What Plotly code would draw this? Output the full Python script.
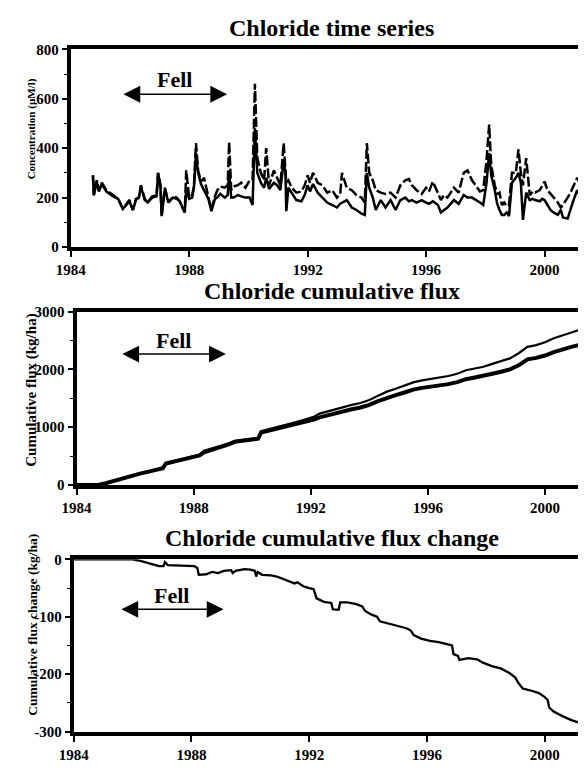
import plotly.graph_objects as go

# ---------------- data ----------------
ts_years = [1984.75, 1984.78, 1984.88, 1984.95, 1985.05, 1985.2, 1985.32, 1985.43, 1985.6, 1985.76,
            1985.88, 1985.98, 1986.1, 1986.2, 1986.3, 1986.37, 1986.5, 1986.6, 1986.75, 1986.9,
            1986.95, 1987.03, 1987.07, 1987.18, 1987.3, 1987.45, 1987.58, 1987.68, 1987.85, 1987.9,
            1988.0, 1988.1, 1988.16, 1988.23, 1988.3, 1988.4, 1988.5, 1988.65, 1988.75, 1988.87,
            1988.95, 1989.05, 1989.2, 1989.3, 1989.35, 1989.42, 1989.5, 1989.64, 1989.76, 1989.9,
            1990.04, 1990.14, 1990.22, 1990.3, 1990.42, 1990.53, 1990.6, 1990.7, 1990.86, 1990.97,
            1991.08, 1991.19, 1991.25, 1991.28, 1991.35, 1991.46, 1991.62, 1991.79, 1991.9, 1992.0,
            1992.08, 1992.18, 1992.34, 1992.5, 1992.66, 1992.83, 1992.99, 1993.1, 1993.16, 1993.32,
            1993.49, 1993.65, 1993.82, 1993.93, 1994.0, 1994.08, 1994.2, 1994.3, 1994.47, 1994.63,
            1994.8, 1994.97, 1995.13, 1995.3, 1995.42, 1995.52, 1995.68, 1995.85, 1996.0, 1996.1,
            1996.23, 1996.4, 1996.5, 1996.6, 1996.72, 1996.94, 1997.1, 1997.27, 1997.4, 1997.55,
            1997.71, 1997.82, 1997.93, 1998.04, 1998.13, 1998.2, 1998.32, 1998.4, 1998.48, 1998.56,
            1998.64, 1998.72, 1998.8, 1998.9, 1999.03, 1999.12, 1999.2, 1999.27, 1999.38, 1999.5,
            1999.6, 1999.68, 1999.84, 1999.92, 2000.0, 2000.1, 2000.2, 2000.3, 2000.45, 2000.55,
            2000.62, 2000.78, 2000.88, 2000.95, 2001.1, 2001.22]
conc_dashed = [290, 210, 270, 230, 260, 230, 220, 210, 195, 155,
               175, 190, 150, 195, 200, 250, 195, 180, 205, 210,
               300, 250, 125, 240, 180, 205, 200, 185, 140, 310,
               200, 210, 245, 420, 310, 265, 280, 200, 150, 205,
               230, 245, 240, 250, 425, 230, 245, 250, 260, 240,
               270, 270, 660, 360, 300, 270, 400, 250, 310, 280,
               250, 420, 330, 260, 270, 240, 220, 225, 250, 290,
               260, 300, 260, 250, 220, 230, 200, 215, 300, 240,
               230, 210, 200, 180, 420, 300, 270, 230, 220, 215,
               220, 200, 250, 270, 275, 250, 230, 215, 240, 225,
               265, 220, 190, 210, 200, 240, 220, 300, 310, 270,
               240, 225, 230, 350, 495, 330, 250, 215, 220, 170,
               180, 165, 170, 300, 300, 395, 300, 250, 360, 210,
               225, 220, 230, 245, 265, 230, 215, 200, 180, 160,
               170, 200, 220, 240, 280, 250]
conc_solid = [290, 210, 265, 225, 255, 225, 215, 205, 195, 155,
              170, 185, 150, 190, 200, 245, 190, 180, 200, 205,
              300, 245, 125, 235, 180, 200, 195, 185, 140, 230,
              195, 200, 240, 380, 300, 255, 230, 195, 145, 195,
              200, 215, 200, 210, 300, 200, 200, 210, 205, 200,
              200, 170, 480, 300, 260, 240, 280, 235, 260, 250,
              230, 350, 300, 145, 240, 220, 190, 185, 210, 250,
              225, 255, 220, 200, 180, 170, 160, 175, 180, 190,
              160, 150, 135, 130, 300, 240, 200, 150, 190, 160,
              190, 150, 190, 200, 185, 190, 180, 190, 180, 175,
              185, 170, 140, 150, 160, 190, 175, 210, 200, 200,
              190, 180, 170, 260, 380, 290, 230, 175, 150, 130,
              130, 140, 125, 260, 280, 300, 260, 110, 220, 190,
              195, 190, 185, 195, 190, 170, 150, 140, 130, 150,
              120, 115, 160, 180, 230, 200]

flux_years = [1984.0, 1984.73, 1985.0, 1985.3, 1985.6, 1985.9, 1986.2, 1986.5, 1986.8, 1986.95,
              1987.05, 1987.3, 1987.6, 1987.9, 1988.2, 1988.35, 1988.6, 1988.9, 1989.2, 1989.4,
              1989.7, 1990.0, 1990.2, 1990.3, 1990.6, 1990.9, 1991.2, 1991.5, 1991.8, 1992.1,
              1992.3, 1992.6, 1992.9, 1993.1, 1993.4, 1993.7, 1994.0, 1994.3, 1994.6, 1994.9,
              1995.2, 1995.5, 1995.8, 1996.1, 1996.4, 1996.7, 1997.0, 1997.3, 1997.6, 1997.9,
              1998.2, 1998.5, 1998.8, 1999.1, 1999.4, 1999.7, 2000.0, 2000.3, 2000.6, 2000.9,
              2001.25]
flux_thick = [0, 0, 30, 75, 120, 160, 200, 235, 275, 290,
              370, 400, 430, 465, 510, 565, 600, 650, 700, 745,
              765, 790, 800, 905, 940, 975, 1010, 1050, 1090, 1130,
              1170, 1210, 1240, 1280, 1310, 1340, 1385, 1450, 1510, 1555,
              1600, 1650, 1680, 1700, 1720, 1745, 1780, 1830, 1860, 1885,
              1925, 1960, 2000, 2070, 2175, 2200, 2240, 2300, 2350, 2390,
              2435]
flux_thin = [0, 0, 30, 75, 120, 160, 200, 237, 280, 296,
             378, 410, 441, 477, 521, 592, 625, 673, 720, 763,
             783, 806, 816, 930, 967, 1003, 1045, 1087, 1133, 1178,
             1235, 1278, 1318, 1355, 1385, 1418, 1470, 1545, 1615, 1665,
             1715, 1775, 1810, 1835, 1860, 1885, 1925, 1985, 2015, 2045,
             2095, 2140, 2190, 2280, 2390, 2420, 2470, 2540, 2590, 2635,
             2695]

chg_years = [1984.0, 1986.0, 1986.3, 1986.6, 1986.9, 1987.05, 1987.1, 1987.2, 1987.5, 1987.8,
             1988.1, 1988.2, 1988.25, 1988.5, 1988.7, 1988.9, 1989.1, 1989.35, 1989.4, 1989.5,
             1989.8, 1990.0, 1990.15, 1990.2, 1990.25, 1990.4, 1990.7, 1990.9, 1991.1, 1991.3,
             1991.5, 1991.6, 1991.8, 1992.0, 1992.15, 1992.25, 1992.5, 1992.75, 1992.8, 1993.0,
             1993.05, 1993.3, 1993.6, 1993.8, 1993.9, 1994.1, 1994.3, 1994.4, 1994.7, 1995.0,
             1995.3, 1995.45, 1995.55, 1995.8, 1996.1, 1996.4, 1996.7, 1996.85, 1996.9, 1997.05,
             1997.1, 1997.4, 1997.7, 1997.9, 1998.2, 1998.5, 1998.8, 1999.0, 1999.1, 1999.25,
             1999.5, 1999.8, 2000.0, 2000.1, 2000.15, 2000.3, 2000.6, 2000.9, 2001.2]
chg_values = [0, 0, -3, -8, -12, -12, -5, -10, -11, -11,
              -12, -15, -27, -26, -22, -24, -20, -19, -24, -20,
              -17, -18, -20, -30, -22, -27, -28, -30, -34, -37,
              -42, -40, -47, -50, -52, -68, -74, -76, -87, -88,
              -75, -75, -78, -82, -90, -96, -100, -108, -112, -115,
              -120, -124, -132, -138, -142, -144, -148, -150, -165, -168,
              -175, -172, -174, -180, -186, -190, -198, -206, -215, -225,
              -228, -233, -240, -245, -258, -265, -273, -280, -285]

year_ticks = [1984, 1988, 1992, 1996, 2000]
conc_ticks = [0, 200, 400, 600, 800]
flux_ticks = [0, 1000, 2000, 3000]
chg_ticks = [0, -100, -200, -300]
titles = ["Chloride time series", "Chloride cumulative flux", "Chloride cumulative flux change"]
ytitles = ["Concentration (\u00b5M/l)", "Cumulative flux (kg/ha)", "Cumulative flux change (kg/ha)"]
fell_label = "Fell"

# ---------------- figure ----------------
OFF = 8  # default page body margin
W, H = 586 - OFF, 768 - OFF
SERIF = "Liberation Serif"


def px(x):
    return (x - OFF) / W


def py(y):
    return 1 - (y - OFF) / H


fig = go.Figure()

fig.add_trace(go.Scatter(x=ts_years, y=conc_dashed, mode="lines", xaxis="x", yaxis="y",
                         line=dict(color="black", width=2.5, dash="10px,3px"), showlegend=False))
fig.add_trace(go.Scatter(x=ts_years, y=conc_solid, mode="lines", xaxis="x", yaxis="y",
                         line=dict(color="black", width=2.5), showlegend=False))
fig.add_trace(go.Scatter(x=flux_years, y=flux_thin, mode="lines", xaxis="x2", yaxis="y2",
                         line=dict(color="black", width=2.2), showlegend=False))
fig.add_trace(go.Scatter(x=flux_years, y=flux_thick, mode="lines", xaxis="x2", yaxis="y2",
                         line=dict(color="black", width=4), showlegend=False))
fig.add_trace(go.Scatter(x=chg_years, y=chg_values, mode="lines", xaxis="x3", yaxis="y3",
                         line=dict(color="black", width=2.3), showlegend=False))

panels = [
    # left px, top px, bottom px, y range, tick values, minor dtick
    (57, 42, 244, [0, 800], conc_ticks, 100),
    (63, 310, 487, [0, 3000], flux_ticks, 500),
    (60, 563, 739, [-300, 0], chg_ticks, 50),
]
xr = [1984, 2001.4]
tickfont = dict(family=SERIF, size=15, color="black", weight="bold")
layout = dict(width=W, height=H, margin=dict(l=0, r=0, t=0, b=0),
              paper_bgcolor="white", plot_bgcolor="white", showlegend=False)
for i, (lx, ty, by, yr, tv, mdt) in enumerate(panels):
    sfx = "" if i == 0 else str(i + 1)
    layout["xaxis" + sfx] = dict(domain=[px(lx), 1.0], range=xr, tickvals=year_ticks,
                                 ticktext=["<b>%d</b>" % t for t in year_ticks],
                                 anchor="y" + sfx, showgrid=False, zeroline=False,
                                 showline=True, linewidth=4, linecolor="black", mirror=True,
                                 ticks="outside", ticklen=6, tickwidth=1.5, tickcolor="black",
                                 tickfont=tickfont, fixedrange=True)
    layout["yaxis" + sfx] = dict(domain=[py(by), py(ty)], range=yr, tickvals=tv,
                                 ticktext=["<b>%d</b>" % v for v in tv],
                                 anchor="x" + sfx, showgrid=False, zeroline=False,
                                 showline=True, linewidth=4, linecolor="black", mirror=False,
                                 ticks="outside", ticklen=5, tickwidth=1.5, tickcolor="black",
                                 tickfont=tickfont, fixedrange=True,
                                 minor=dict(dtick=mdt, ticks="outside", ticklen=3,
                                            tickwidth=1, tickcolor="black"))
fig.update_layout(**layout)

ann = []
title_y = [20, 289, 541]
for i in range(3):
    ann.append(dict(text="<b>%s</b>" % titles[i], x=px(325), y=py(title_y[i]), xref="paper",
                    yref="paper", showarrow=False, xanchor="center", yanchor="middle",
                    font=dict(family=SERIF, size=24, color="black")))
ytitle_y = [123, 390, 630]
ytitle_x = [17, 17, 18]
ytitle_sizes = [11, 15, 13.5]
for i in range(3):
    ann.append(dict(text="<b>%s</b>" % ytitles[i], x=px(ytitle_x[i]), y=py(ytitle_y[i]),
                    xref="paper", yref="paper", showarrow=False, textangle=-90,
                    xanchor="center", yanchor="middle",
                    font=dict(family=SERIF, size=ytitle_sizes[i], color="black")))

# Fell arrows (data coordinates)
fell = [
    ("x", "y", 1985.73, 1989.28, 618, 677),
    ("x2", "y2", 1985.51, 1989.1, 2266, 2508),
    ("x3", "y3", 1985.57, 1989.09, -87, -63),
]
for xa, ya, x0, x1, yarr, ytxt in fell:
    ann.append(dict(x=x1, y=yarr, ax=x0, ay=yarr, xref=xa, yref=ya, axref=xa, ayref=ya,
                    showarrow=True, arrowhead=2, startarrowhead=2, arrowside="end+start",
                    arrowsize=2.4, startarrowsize=2.4, arrowwidth=1.4, arrowcolor="black",
                    text=""))
    ann.append(dict(x=(x0 + x1) / 2, y=ytxt, xref=xa, yref=ya, showarrow=False,
                    text="<b>%s</b>" % fell_label,
                    font=dict(family=SERIF, size=22, color="black")))
fig.update_layout(annotations=ann)

fig.write_html("out.html")
